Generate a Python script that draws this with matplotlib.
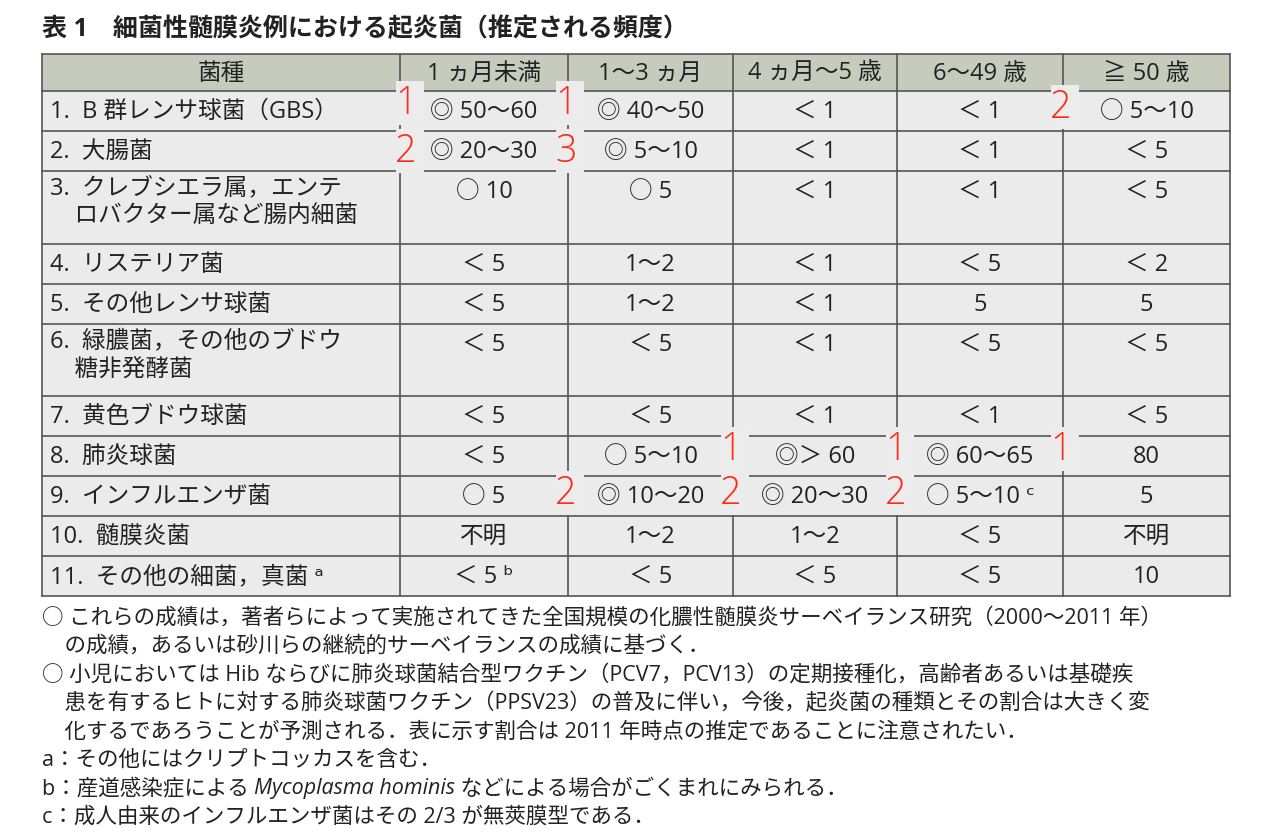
import matplotlib
matplotlib.use("Agg")
import matplotlib.pyplot as plt
from matplotlib.patches import Rectangle

plt.rcParams['font.family'] = ['Open Sans', 'Noto Sans CJK JP', 'DejaVu Sans']

title = "表 1　細菌性髄膜炎例における起炎菌（推定される頻度）"
headers = ["菌種", "1 ヵ月未満", "1～3 ヵ月", "4 ヵ月～5 歳", "6～49 歳", "≧ 50 歳"]
organisms = ["1.  B 群レンサ球菌（GBS）", "2.  大腸菌", "3.  クレブシエラ属，エンテ\n    ロバクター属など腸内細菌",
             "4.  リステリア菌", "5.  その他レンサ球菌", "6.  緑膿菌，その他のブドウ\n    糖非発酵菌",
             "7.  黄色ブドウ球菌", "8.  肺炎球菌", "9.  インフルエンザ菌", "10.  髄膜炎菌", "11.  その他の細菌，真菌 ᵃ"]
col_1m = ["◎ 50～60", "◎ 20～30", "○ 10", "＜ 5", "＜ 5", "＜ 5", "＜ 5", "＜ 5", "○ 5", "不明", "＜ 5 ᵇ"]
col_1_3m = ["◎ 40～50", "◎ 5～10", "○ 5", "1～2", "1～2", "＜ 5", "＜ 5", "○ 5～10", "◎ 10～20", "1～2", "＜ 5"]
col_4m_5y = ["＜ 1", "＜ 1", "＜ 1", "＜ 1", "＜ 1", "＜ 1", "＜ 1", "◎＞ 60", "◎ 20～30", "1～2", "＜ 5"]
col_6_49 = ["＜ 1", "＜ 1", "＜ 1", "＜ 5", "5", "＜ 5", "＜ 1", "◎ 60～65", "○ 5～10 ᶜ", "＜ 5", "＜ 5"]
col_50 = ["○ 5～10", "＜ 5", "＜ 5", "＜ 2", "5", "＜ 5", "＜ 5", "80", "5", "不明", "10"]
notes = ["○ これらの成績は，著者らによって実施されてきた全国規模の化膿性髄膜炎サーベイランス研究（2000～2011 年）",
         "    の成績，あるいは砂川らの継続的サーベイランスの成績に基づく．",
         "○ 小児においては Hib ならびに肺炎球菌結合型ワクチン（PCV7，PCV13）の定期接種化，高齢者あるいは基礎疾",
         "    患を有するヒトに対する肺炎球菌ワクチン（PPSV23）の普及に伴い，今後，起炎菌の種類とその割合は大きく変",
         "    化するであろうことが予測される．表に示す割合は 2011 年時点の推定であることに注意されたい．",
         "a：その他にはクリプトコッカスを含む．",
         None,
         "c：成人由来のインフルエンザ菌はその 2/3 が無莢膜型である．"]
note_b = ["b：産道感染症による ", "Mycoplasma hominis", " などによる場合がごくまれにみられる．"]
ranks = [(410, 104, "1"), (410, 152, "2"), (570, 104, "1"), (570, 152, "3"), (1065, 108, "2"),
         (735, 450, "1"), (735, 494, "2"), (900, 450, "1"), (900, 494, "2"), (1065, 450, "1"), (570, 494, "2")]

fig = plt.figure(figsize=(12.61, 8.37), dpi=100)
ax = fig.add_axes([0, 0, 1, 1])
ax.set_xlim(0, 1261); ax.set_ylim(837, 0); ax.axis('off')

xs = [42, 400, 568, 733, 897, 1063, 1230]
ys = [55, 92, 132, 172, 245, 285, 325, 397, 437, 477, 517, 557, 597]
ax.text(42, 30, title, fontsize=18, fontweight='bold', va='center', color='#222')
ax.add_patch(Rectangle((xs[0], ys[0]), xs[-1]-xs[0], ys[1]-ys[0], color='#c6cbbe', lw=0))
ax.add_patch(Rectangle((xs[0], ys[1]), xs[-1]-xs[0], ys[-1]-ys[1], color='#ebebeb', lw=0))
for x in xs:
    ax.plot([x, x], [ys[0], ys[-1]], color='#555', lw=1.2)
for y in ys:
    ax.plot([xs[0], xs[-1]], [y, y], color='#555', lw=1.2)

fs = 17
for j, h in enumerate(headers):
    ax.text((xs[j]+xs[j+1])/2, (ys[0]+ys[1])/2, h, ha='center', va='center', fontsize=fs, color='#222')
cols = [col_1m, col_1_3m, col_4m_5y, col_6_49, col_50]
for i, org in enumerate(organisms):
    top = ys[i+1]
    multi = "\n" in org
    yc = top + 20
    ax.text(50, top + 4 if multi else yc, org, ha='left', va='top' if multi else 'center',
            fontsize=fs, color='#222', linespacing=1.3)
    for j, col in enumerate(cols):
        ax.text((xs[j+1]+xs[j+2])/2, yc, col[i], ha='center', va='center', fontsize=fs, color='#222')

for x, y, lab in ranks:
    ax.add_patch(Rectangle((x-14, y-22), 28, 44, color='#ececec', lw=0, zorder=3))
    ax.text(x-4, y, lab, ha='center', va='center', fontsize=27, fontweight='light', color='#ff2a1a', zorder=4)

nfs = 15.5
ny = 618
for k, n in enumerate(notes):
    yy = ny + k*28.5
    if n is None:
        fig.canvas.draw()
        r = fig.canvas.get_renderer()
        x0 = 42
        for p, part in enumerate(note_b):
            t = ax.text(x0, yy, part, fontsize=nfs, va='center', color='#222',
                        style='italic' if p == 1 else 'normal')
            bb = t.get_window_extent(r)
            x0 += bb.width
    else:
        ax.text(42, yy, n, fontsize=nfs, va='center', color='#222')

fig.savefig("out.png", dpi=100, facecolor='white')
